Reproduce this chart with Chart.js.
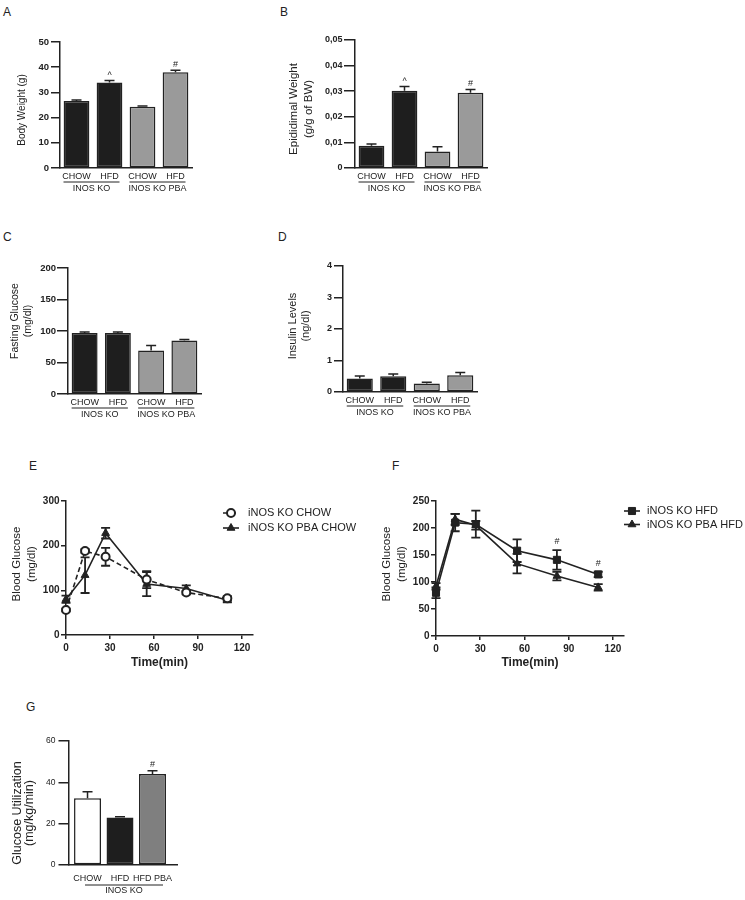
<!DOCTYPE html>
<html>
<head>
<meta charset="utf-8">
<title>iNOS KO / PBA metabolic panels</title>
<script src="https://cdn.jsdelivr.net/npm/chart.js@4.4.1/dist/chart.umd.min.js"></script>
<style>
  body { margin: 0; background: #fff; }
  #fig { position: relative; width: 745px; height: 900px; font-family: "Liberation Sans", Arial, Helvetica, sans-serif; }
  #fig canvas { position: absolute; }
  .tag { position: absolute; font-size: 12px; line-height: 12px; color: #222; }
</style>
</head>
<body>
<div id="fig">
  <div class="tag" style="left:3px;top:6px">A</div>
  <div class="tag" style="left:280px;top:6px">B</div>
  <div class="tag" style="left:3px;top:231px">C</div>
  <div class="tag" style="left:278px;top:231px">D</div>
  <div class="tag" style="left:29px;top:460px">E</div>
  <div class="tag" style="left:392px;top:460px">F</div>
  <div class="tag" style="left:26px;top:701px">G</div>

  <canvas id="chartA" width="200" height="178" style="left:0;top:30px"></canvas>
  <canvas id="chartB" width="235" height="180" style="left:260px;top:28px"></canvas>
  <canvas id="chartC" width="210" height="178" style="left:0;top:256px"></canvas>
  <canvas id="chartD" width="225" height="178" style="left:260px;top:254px"></canvas>
  <canvas id="chartE" width="368" height="185" style="left:0;top:489px"></canvas>
  <canvas id="chartF" width="375" height="185" style="left:370px;top:489px"></canvas>
  <canvas id="chartG" width="190" height="171" style="left:0;top:729px"></canvas>
</div>

<script>
// ---- data ----
// panels A-D: same four groups
const barLabels = ["CHOW", "HFD", "CHOW", "HFD"];
const groupNames = ["INOS KO", "INOS KO PBA"];
const groupSpans = [[0, 1], [2, 3]];

const bodyWeight = [26.6, 33.9, 24.3, 38.0];
const bodyWeightErr = [0.4, 0.8, 0.3, 0.8];
const bodyWeightMarks = ["", "^", "", "#"];

const epiWeight = [0.0087, 0.0302, 0.0064, 0.0294];
const epiWeightErr = [0.0007, 0.0016, 0.0019, 0.0013];
const epiWeightMarks = ["", "^", "", "#"];
const epiTickLabels = ["0", "0,01", "0,02", "0,03", "0,04", "0,05"];

const fastingGlucose = [97, 97, 69, 85];
const fastingGlucoseErr = [1.5, 1.5, 8, 1.5];

const insulin = [0.43, 0.5, 0.27, 0.53];
const insulinErr = [0.08, 0.07, 0.04, 0.09];

// panels E-F: glucose tolerance curves
const gttTimes = [0, 13, 27, 55, 82, 110];
const chowKO = [56, 188, 175, 124, 95, 82];
const chowKOErr = [3, 4, 20, 19, 4, 5];
const chowPBA = [80, 134, 228, 114, 104, 78];
const chowPBAErr = [8, 40, 12, 27, 7, 5];

const hfdKO = [80, 210, 207, 158, 141, 114];
const hfdKOErr = [10, 16, 25, 21, 18, 5];
const hfdKOMarks = ["", "", "", "", "#", "#"];
const hfdPBA = [92, 216, 205, 134, 111, 90];
const hfdPBAErr = [6, 10, 8, 18, 8, 6];

// panel G
const utilLabels = ["CHOW", "HFD", "HFD PBA"];
const utilGroup = ["INOS KO"];
const utilSpan = [[0, 2]];
const utilization = [32.3, 23.0, 44.0];
const utilizationErr = [3.2, 0.3, 1.6];
const utilizationMarks = ["", "", "#"];

// ---- shared look ----
const FONT = '"Liberation Sans", Arial, Helvetica, sans-serif';
const INK = "#222";
Chart.defaults.font.family = FONT;
Chart.defaults.color = INK;
Chart.defaults.animation = false;

function drawErrors(chart, o) {
  const ctx = chart.ctx;
  const y = chart.scales.y;
  chart.data.datasets.forEach((ds, di) => {
    if (!ds.errors) return;
    const meta = chart.getDatasetMeta(di);
    meta.data.forEach((el, i) => {
      const raw = ds.data[i];
      const v = typeof raw === "object" ? raw.y : raw;
      const e = ds.errors[i] || 0;
      const x = el.x;
      const hi = y.getPixelForValue(v + e);
      const lo = y.getPixelForValue(o.both ? v - e : v);
      const c = (o.cap || 10) / 2;
      ctx.save();
      ctx.strokeStyle = INK;
      ctx.lineWidth = o.width || 1.5;
      if (e > 0) {
        ctx.beginPath();
        ctx.moveTo(x, lo); ctx.lineTo(x, hi);
        ctx.moveTo(x - c, hi); ctx.lineTo(x + c, hi);
        if (o.both) { ctx.moveTo(x - c, lo); ctx.lineTo(x + c, lo); }
        ctx.stroke();
      }
      const m = ds.marks && ds.marks[i];
      if (m) {
        ctx.fillStyle = INK;
        ctx.font = (o.markSize || 9) + "px " + FONT;
        ctx.textAlign = "center";
        ctx.textBaseline = "alphabetic";
        ctx.fillText(m, x, hi - (o.markGap || 3));
      }
      ctx.restore();
    });
  });
}

const errorBars = {
  id: "errorBars",
  beforeDatasetsDraw(chart, args, o) { if (o.under) drawErrors(chart, o); },
  afterDatasetsDraw(chart, args, o) { if (!o.under) drawErrors(chart, o); }
};

// category names + underlined group name under the bars
const categoryLabels = {
  id: "categoryLabels",
  afterDraw(chart, args, o) {
    if (!o.labels) return;
    const ctx = chart.ctx;
    const x = chart.scales.x;
    const base = chart.chartArea.bottom;
    ctx.save();
    ctx.fillStyle = INK;
    ctx.strokeStyle = INK;
    ctx.lineWidth = 1;
    ctx.font = (o.size || 9) + "px " + FONT;
    ctx.textAlign = "center";
    ctx.textBaseline = "middle";
    o.labels.forEach((t, i) => ctx.fillText(t, x.getPixelForValue(i), base + o.labelY));
    o.groups.forEach((g, k) => {
      const [a, b] = o.spans[k];
      const x0 = x.getPixelForValue(a) - o.lineL;
      const x1 = x.getPixelForValue(b) + o.lineR;
      ctx.beginPath();
      ctx.moveTo(x0, base + o.lineY + 0.5);
      ctx.lineTo(x1, base + o.lineY + 0.5);
      ctx.stroke();
      ctx.fillText(g, (x0 + x1) / 2, base + o.groupY);
    });
    ctx.restore();
  }
};

// rotated y title, lines stacked left to right
const yTitle = {
  id: "yTitle",
  afterDraw(chart, args, o) {
    if (!o.lines) return;
    const ctx = chart.ctx;
    ctx.save();
    ctx.translate(o.x, o.y);
    ctx.rotate(-Math.PI / 2);
    ctx.font = o.size + "px " + FONT;
    ctx.fillStyle = INK;
    ctx.textAlign = "center";
    ctx.textBaseline = "middle";
    o.lines.forEach((t, i) => ctx.fillText(t, 0, i * o.gap));
    ctx.restore();
  }
};

function drawMarker(ctx, ds, x, y) {
  ctx.fillStyle = ds.pointBackgroundColor;
  ctx.strokeStyle = ds.pointBorderColor;
  ctx.lineWidth = ds.pointBorderWidth;
  if (Chart.helpers && Chart.helpers.drawPoint) {
    Chart.helpers.drawPoint(ctx, { pointStyle: ds.pointStyle, radius: ds.pointRadius, rotation: 0, borderWidth: ds.pointBorderWidth }, x, y);
  } else {
    ctx.beginPath();
    ctx.arc(x, y, ds.pointRadius, 0, Math.PI * 2);
    ctx.fill();
    ctx.stroke();
  }
}

// legend sitting in the empty top-right corner of the curve panels
const sideLegend = {
  id: "sideLegend",
  afterDraw(chart, args, o) {
    if (o.x === undefined) return;
    const ctx = chart.ctx;
    chart.data.datasets.forEach((ds, i) => {
      const y = o.y + i * o.gap;
      ctx.save();
      ctx.strokeStyle = ds.borderColor;
      ctx.lineWidth = ds.borderWidth;
      ctx.setLineDash(ds.borderDash || []);
      ctx.beginPath();
      ctx.moveTo(o.x - 8, y);
      ctx.lineTo(o.x + 8, y);
      ctx.stroke();
      ctx.setLineDash([]);
      drawMarker(ctx, ds, o.x, y);
      ctx.fillStyle = INK;
      ctx.font = "11px " + FONT;
      ctx.textAlign = "left";
      ctx.textBaseline = "middle";
      ctx.fillText(ds.label, o.textX, y);
      ctx.restore();
    });
  }
};

Chart.register(errorBars, categoryLabels, yTitle, sideLegend);

function yScale(o) {
  const ticks = {
    stepSize: o.step,
    padding: o.pad,
    color: INK,
    font: { size: o.tickSize, weight: o.bold ? "bold" : "normal" }
  };
  if (o.fmt) ticks.callback = o.fmt;
  return {
    min: o.min,
    max: o.max,
    afterFit: s => { s.width = o.width; },
    border: { display: true, color: INK, width: 1.5 },
    grid: { display: true, drawOnChartArea: false, drawTicks: true, tickLength: o.tick, color: INK, lineWidth: 1.5 },
    ticks: ticks
  };
}

function barXScale(height, extra) {
  return Object.assign({
    type: "category",
    afterFit: s => { s.height = height; },
    grid: { display: false, drawTicks: false },
    border: { display: true, color: INK, width: 1.5 },
    ticks: { display: false }
  }, extra || {});
}

function barPanel(id, c) {
  return new Chart(document.getElementById(id), {
    type: "bar",
    data: {
      labels: c.labels,
      datasets: [{
        data: c.data,
        errors: c.errors,
        marks: c.marks,
        backgroundColor: c.fill,
        borderColor: INK,
        borderWidth: 1.5,
        borderSkipped: false,
        barPercentage: c.barPct || 0.78,
        categoryPercentage: 1
      }]
    },
    options: {
      responsive: false,
      animation: false,
      layout: { padding: { top: 12, right: c.padRight, left: 0, bottom: 0 } },
      plugins: {
        legend: { display: false },
        tooltip: { enabled: false },
        errorBars: { cap: 10, width: 1.5, markGap: c.markGap || 3, markSize: 9 },
        categoryLabels: c.cats,
        yTitle: c.title
      },
      scales: { x: c.x, y: yScale(c.y) }
    }
  });
}

const fourFill = ["#1e1e1e", "#1e1e1e", "#9a9a9a", "#9a9a9a"];
const fourCats = { labels: barLabels, groups: groupNames, spans: groupSpans, labelY: 8.5, lineY: 13.5, groupY: 20.5, lineL: 13, lineR: 10, size: 9 };

barPanel("chartA", {
  labels: barLabels, data: bodyWeight, errors: bodyWeightErr, marks: bodyWeightMarks,
  fill: fourFill, padRight: 8, x: barXScale(40), cats: fourCats,
  title: { lines: ["Body Weight (g)"], x: 22, y: 80, gap: 0, size: 10 },
  y: { min: 0, max: 50, step: 10, width: 60, tick: 9, pad: 2, tickSize: 9.5, bold: true }
});

barPanel("chartB", {
  labels: barLabels, data: epiWeight, errors: epiWeightErr, marks: epiWeightMarks,
  fill: fourFill, padRight: 8, x: barXScale(40), cats: fourCats,
  title: { lines: ["Epididimal Weight", "(g/g of BW)"], x: 34, y: 81, gap: 15, size: 11.5 },
  y: { min: 0, max: 0.05, step: 0.01, width: 95, tick: 11, pad: 1.5, tickSize: 9, bold: true, fmt: (v, i) => epiTickLabels[i] }
});

barPanel("chartC", {
  labels: barLabels, data: fastingGlucose, errors: fastingGlucoseErr,
  fill: fourFill, padRight: 9, x: barXScale(40), cats: fourCats,
  title: { lines: ["Fasting Glucose", "(mg/dl)"], x: 15, y: 65, gap: 13, size: 10.5 },
  y: { min: 0, max: 200, step: 50, width: 68, tick: 11, pad: 1, tickSize: 9.5, bold: true }
});

barPanel("chartD", {
  labels: barLabels, data: insulin, errors: insulinErr,
  fill: fourFill, padRight: 8, x: barXScale(40), cats: fourCats,
  title: { lines: ["Insulin Levels", "(ng/dl)"], x: 33, y: 72, gap: 12.5, size: 11 },
  y: { min: 0, max: 4, step: 1, width: 83, tick: 9, pad: 2, tickSize: 9, bold: true }
});

barPanel("chartG", {
  labels: utilLabels, data: utilization.map((v, i) => ({ x: i, y: v })), errors: utilizationErr, marks: utilizationMarks,
  fill: ["#ffffff", "#1e1e1e", "#7f7f7f"], padRight: 13, barPct: 0.83, markGap: 4,
  x: barXScale(35, { type: "linear", min: -0.57, max: 2.754, offset: false }),
  cats: { labels: utilLabels, groups: utilGroup, spans: utilSpan, labelY: 14, lineY: 19.5, groupY: 26, lineL: 2.5, lineR: 10.5, size: 9 },
  title: { lines: ["Glucose Utilization", "(mg/kg/min)"], x: 18, y: 84, gap: 12, size: 12.5 },
  y: { min: 0, max: 60, step: 20, width: 69, tick: 10.5, pad: 3, tickSize: 8.5, bold: false }
});

function curve(label, ys, errs, style) {
  return Object.assign({
    label: label,
    data: gttTimes.map((t, i) => ({ x: t, y: ys[i] })),
    errors: errs,
    borderColor: INK,
    borderWidth: 1.6,
    tension: 0,
    clip: false,
    pointBorderColor: INK,
    pointBackgroundColor: INK,
    pointBorderWidth: 1,
    pointRadius: 4.5
  }, style);
}

function curvePanel(id, c) {
  return new Chart(document.getElementById(id), {
    type: "line",
    data: { datasets: c.datasets },
    options: {
      responsive: false,
      animation: false,
      layout: { padding: { top: 12, right: c.padRight, left: 0, bottom: 0 } },
      plugins: {
        legend: { display: false },
        tooltip: { enabled: false },
        errorBars: { under: true, both: true, cap: 9, width: 1.8, markGap: 6, markSize: 9 },
        yTitle: { lines: ["Blood Glucose", "(mg/dl)"], x: 17, y: 75, gap: 15, size: 11.5 },
        sideLegend: c.legend
      },
      scales: {
        x: {
          type: "linear",
          min: 0,
          max: 127.5,
          afterFit: s => { s.height = c.xHeight; },
          border: { display: true, color: INK, width: 1.5 },
          grid: { display: true, drawOnChartArea: false, drawTicks: true, tickLength: 4, color: INK, lineWidth: 1.5 },
          ticks: { stepSize: 30, includeBounds: false, padding: 3, color: INK, font: { size: 10, weight: "bold" } },
          title: { display: true, text: "Time(min)", color: INK, font: { size: 12, weight: "bold" }, padding: { top: 0, bottom: 4 } }
        },
        y: yScale({ min: 0, max: c.yMax, step: c.yStep, width: 66, tick: 5, pad: 1.5, tickSize: 10, bold: true })
      }
    }
  });
}

curvePanel("chartE", {
  padRight: 115, xHeight: 39, yMax: 300, yStep: 100,
  legend: { x: 231, textX: 248, y: 24, gap: 15 },
  datasets: [
    curve("iNOS KO CHOW", chowKO, chowKOErr, { borderDash: [5, 3], pointStyle: "circle", pointRadius: 4, pointBorderWidth: 2, pointBackgroundColor: "#fff" }),
    curve("iNOS KO PBA CHOW", chowPBA, chowPBAErr, { pointStyle: "triangle" })
  ]
});

curvePanel("chartF", {
  padRight: 121, xHeight: 38, yMax: 250, yStep: 50,
  legend: { x: 262, textX: 277, y: 22, gap: 13.5 },
  datasets: [
    curve("iNOS KO HFD", hfdKO, hfdKOErr, { pointStyle: "rect", pointRadius: 5, marks: hfdKOMarks }),
    curve("iNOS KO PBA HFD", hfdPBA, hfdPBAErr, { pointStyle: "triangle" })
  ]
});
</script>
</body>
</html>
